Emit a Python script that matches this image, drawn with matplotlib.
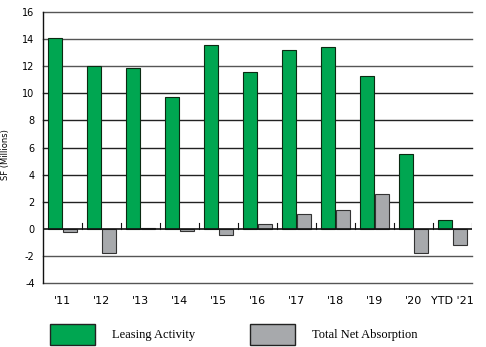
import numpy as np
import matplotlib
matplotlib.use('Agg')
import matplotlib.pyplot as plt
from matplotlib.patches import Patch

years = ["'11", "'12", "'13", "'14", "'15", "'16", "'17", "'18", "'19", "'20", "YTD '21"]
leasing = [14.1, 12.0, 11.9, 9.75, 13.55, 11.6, 13.2, 13.4, 11.25, 5.5, 0.65]
absorption = [-0.2, -1.8, 0.05, -0.15, -0.45, 0.35, 1.1, 1.4, 2.55, -1.8, -1.2]
yticks = [-4, -2, 0, 2, 4, 6, 8, 10, 12, 14, 16]

green = '#00a651'
gray = '#a7a9ac'
barW = 0.36

fig = plt.figure(figsize=(4.86, 3.47), dpi=100)
ax = fig.add_axes([0.0885, 0.1844, 0.8825, 0.781])

x = np.arange(len(years))
shadow = dict(color='#bbbbbb', zorder=2)
ax.bar(x - 0.2 + 0.03, leasing, barW, bottom=0, **shadow)
ax.bar(x - 0.2, leasing, barW, color=green, edgecolor='#0b2a12', linewidth=0.8, zorder=3)
ax.bar(x + 0.2, absorption, barW, color=gray, edgecolor='#333333', linewidth=0.8, zorder=3)

ax.set_xlim(-0.5, len(years) - 0.5)
ax.set_ylim(-4, 16)
ax.set_yticks(yticks)
ax.set_yticklabels([str(v) for v in yticks], fontsize=7)
ax.set_xticks(x)
ax.set_xticklabels(years, fontsize=8)
ax.tick_params(axis='both', length=0, pad=6)
ax.tick_params(axis='x', pad=9)

for v in yticks:
    if v == 0:
        continue
    ax.axhline(v, color='#555555' if v in (16, 14, 12, -2, -4) else '#222222', lw=1.0,
               zorder=1, clip_on=False)
ax.axhline(0, color='#111111', lw=1.2, zorder=4)
# little ticks along the zero line between groups
for b in np.arange(0.5, len(years) - 0.5, 1.0):
    ax.plot([b, b], [0, 0.45], color='#111111', lw=0.8, zorder=4)
ax.plot([len(years) - 0.5] * 2, [0, 0.45], color='#111111', lw=0.8, zorder=4)

for s in ['top', 'right', 'bottom']:
    ax.spines[s].set_visible(False)
ax.spines['left'].set_color('#111111')
ax.spines['left'].set_linewidth(1.0)

fig.text(0.012, 0.555, 'SF (Millions)', rotation=90, fontsize=6, va='center', ha='center')

legProps = dict(loc='lower left', frameon=False, handlelength=3.6, handleheight=2.2,
                handletextpad=1.4, borderpad=0, borderaxespad=0,
                prop={'family': 'Liberation Serif', 'size': 9})
fig.legend(handles=[Patch(facecolor=green, edgecolor='#222222', label='Leasing Activity')],
           bbox_to_anchor=(50 / 486, 2 / 347), **legProps)
fig.legend(handles=[Patch(facecolor=gray, edgecolor='#222222', label='Total Net Absorption')],
           bbox_to_anchor=(250 / 486, 2 / 347), **legProps)

fig.savefig('out.png', dpi=100)
